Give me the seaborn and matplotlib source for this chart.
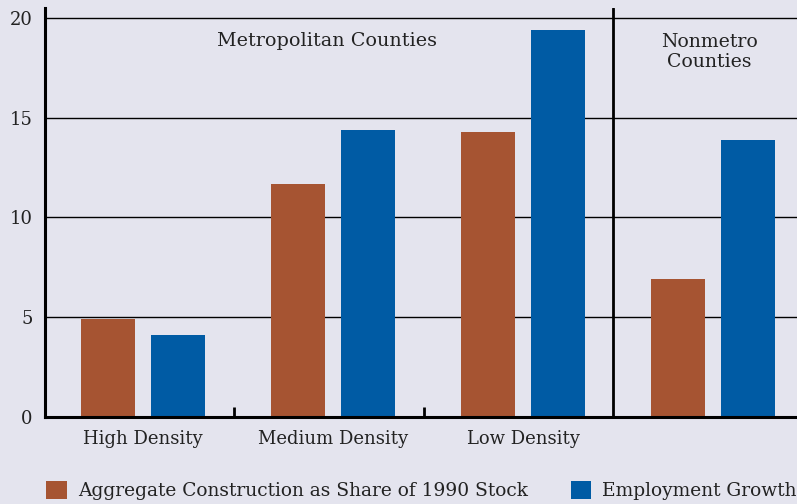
import matplotlib
matplotlib.use("Agg")
import matplotlib.pyplot as plt
import seaborn as sns
import pandas as pd
from matplotlib.patches import Patch

# data
groups = ["High Density", "Medium Density", "Low Density", "Nonmetro"]
tick_labels = ["High Density", "Medium Density", "Low Density", ""]
construction = [4.9, 11.7, 14.3, 6.9]
employment = [4.1, 14.4, 19.4, 13.9]
series = ["Aggregate Construction as Share of 1990 Stock", "Employment Growth"]
colors = ["#a65432", "#005ba4"]
bg = "#e4e4ee"

df = pd.DataFrame({
    "group": groups * 2,
    "value": construction + employment,
    "series": [series[0]] * 4 + [series[1]] * 4,
})

sns.set_theme(style="white")
plt.rcParams["font.family"] = ["DejaVu Serif"]

fig = plt.figure(figsize=(7.97, 5.04), dpi=100, facecolor=bg)
ax = fig.add_axes([45 / 797, 1 - 417 / 504, 752 / 797, 409 / 504])
ax.set_facecolor(bg)

sns.barplot(data=df, x="group", y="value", hue="series", order=groups,
            hue_order=series, palette=colors, width=0.737, gap=0.228,
            saturation=1, ax=ax, legend=False, zorder=3,
            edgecolor="none", linewidth=0)

ax.set_xlim(-0.516, 3.44)
ax.set_ylim(0, 20.5)
ax.set_yticks([0, 5, 10, 15, 20])
for y in [5, 10, 15, 20]:
    ax.axhline(y, color="black", lw=1.0, zorder=1)
ax.axvline(2.47, color="black", lw=2, zorder=4)

ax.set_xticks(range(4))
ax.set_xticklabels(tick_labels)
ax.set_xticks([0.48, 1.48], minor=True)
ax.tick_params(axis="x", which="major", bottom=True, length=0, pad=9,
               labelsize=13, colors="#222222")
ax.tick_params(axis="x", which="minor", bottom=True, direction="in",
               length=7, width=2, color="black")
ax.tick_params(axis="y", length=0, pad=9, labelsize=13, colors="#222222")
ax.set_xlabel("")
ax.set_ylabel("")

for side in ["top", "right"]:
    ax.spines[side].set_visible(False)
for side in ["left", "bottom"]:
    ax.spines[side].set_color("black")
    ax.spines[side].set_linewidth(2.2)
    ax.spines[side].set_zorder(5)

ax.text(0.97, 18.85, "Metropolitan Counties", ha="center", va="center",
        fontsize=13.8, color="#222222")
ax.text(2.98, 18.3, "Nonmetro\nCounties", ha="center", va="center",
        fontsize=13.6, color="#222222", linespacing=1.12)

handles = [Patch(facecolor=c, edgecolor="none") for c in colors]
fig.legend(handles, series, loc="center left", bbox_to_anchor=(0.037, 0.027),
           ncol=2, frameon=False, fontsize=13.4, handlelength=1.1,
           handleheight=1.1, handletextpad=0.6, columnspacing=2.3,
           labelcolor="#222222")

fig.savefig("out.png", dpi=100, facecolor=bg)
